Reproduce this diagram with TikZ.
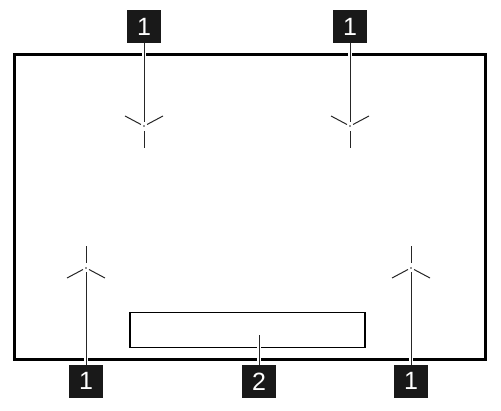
\documentclass[tikz,border=0pt]{standalone}
\usepackage{fontspec}
\setmainfont{Liberation Sans}
\begin{document}
\begin{tikzpicture}[x=1pt,y=-1pt,
  callout/.style={fill=black!90,text=white,minimum width=34pt,minimum height=33pt,inner sep=0pt,font=\fontsize{25}{25}\selectfont},
  leader/.style={line width=1pt,black!85,preaction={draw=white,line width=4pt}},
  frameline/.style={line width=3pt,line join=miter},
  slot/.style={line width=1.5pt},
  sensorsym/.pic={
    \draw[line width=1pt,black!85] (-3,-1.5) -- (-19,-10);
    \draw[line width=1pt,black!85] (3,-1.5) -- (19,-10);
    \draw[line width=1pt,black!85] (0,5) -- (0,22);
    \fill[black!85] (0,0) circle (0.9);
  }]
\useasboundingbox (0,0) rectangle (501,411);
% frame
\node[draw,frameline,minimum width=471pt,minimum height=305pt,inner sep=0pt,anchor=north west] (frame) at (13,53) {};
% slot
\node[draw,slot,minimum width=235pt,minimum height=35pt,inner sep=0pt,anchor=north west] (slot) at (129,312) {};
% sensor symbols
\pic at (144,126) {sensorsym};
\pic at (350,126) {sensorsym};
\pic[yscale=-1] at (86,268) {sensorsym};
\pic[yscale=-1] at (411,268) {sensorsym};
% leader ends
\coordinate (e1) at (144,122);
\coordinate (e2) at (350,122);
\coordinate (e3) at (86,272);
\coordinate (e4) at (411,272);
\coordinate (e5) at (259,335);
% callouts
\node[callout,anchor=north] (l1) at (144,10) {1};
\node[callout,anchor=north] (l2) at (350,10) {1};
\node[callout,anchor=south] (l3) at (86,398) {1};
\node[callout,anchor=south] (l4) at (411,398) {1};
\node[callout,anchor=south] (l5) at (259,398) {2};
% leaders
\draw[leader] (l1.south) -- (e1);
\draw[leader] (l2.south) -- (e2);
\draw[leader] (l3.north) -- (e3);
\draw[leader] (l4.north) -- (e4);
\draw[leader] (l5.north) -- (e5);
\end{tikzpicture}
\end{document}
